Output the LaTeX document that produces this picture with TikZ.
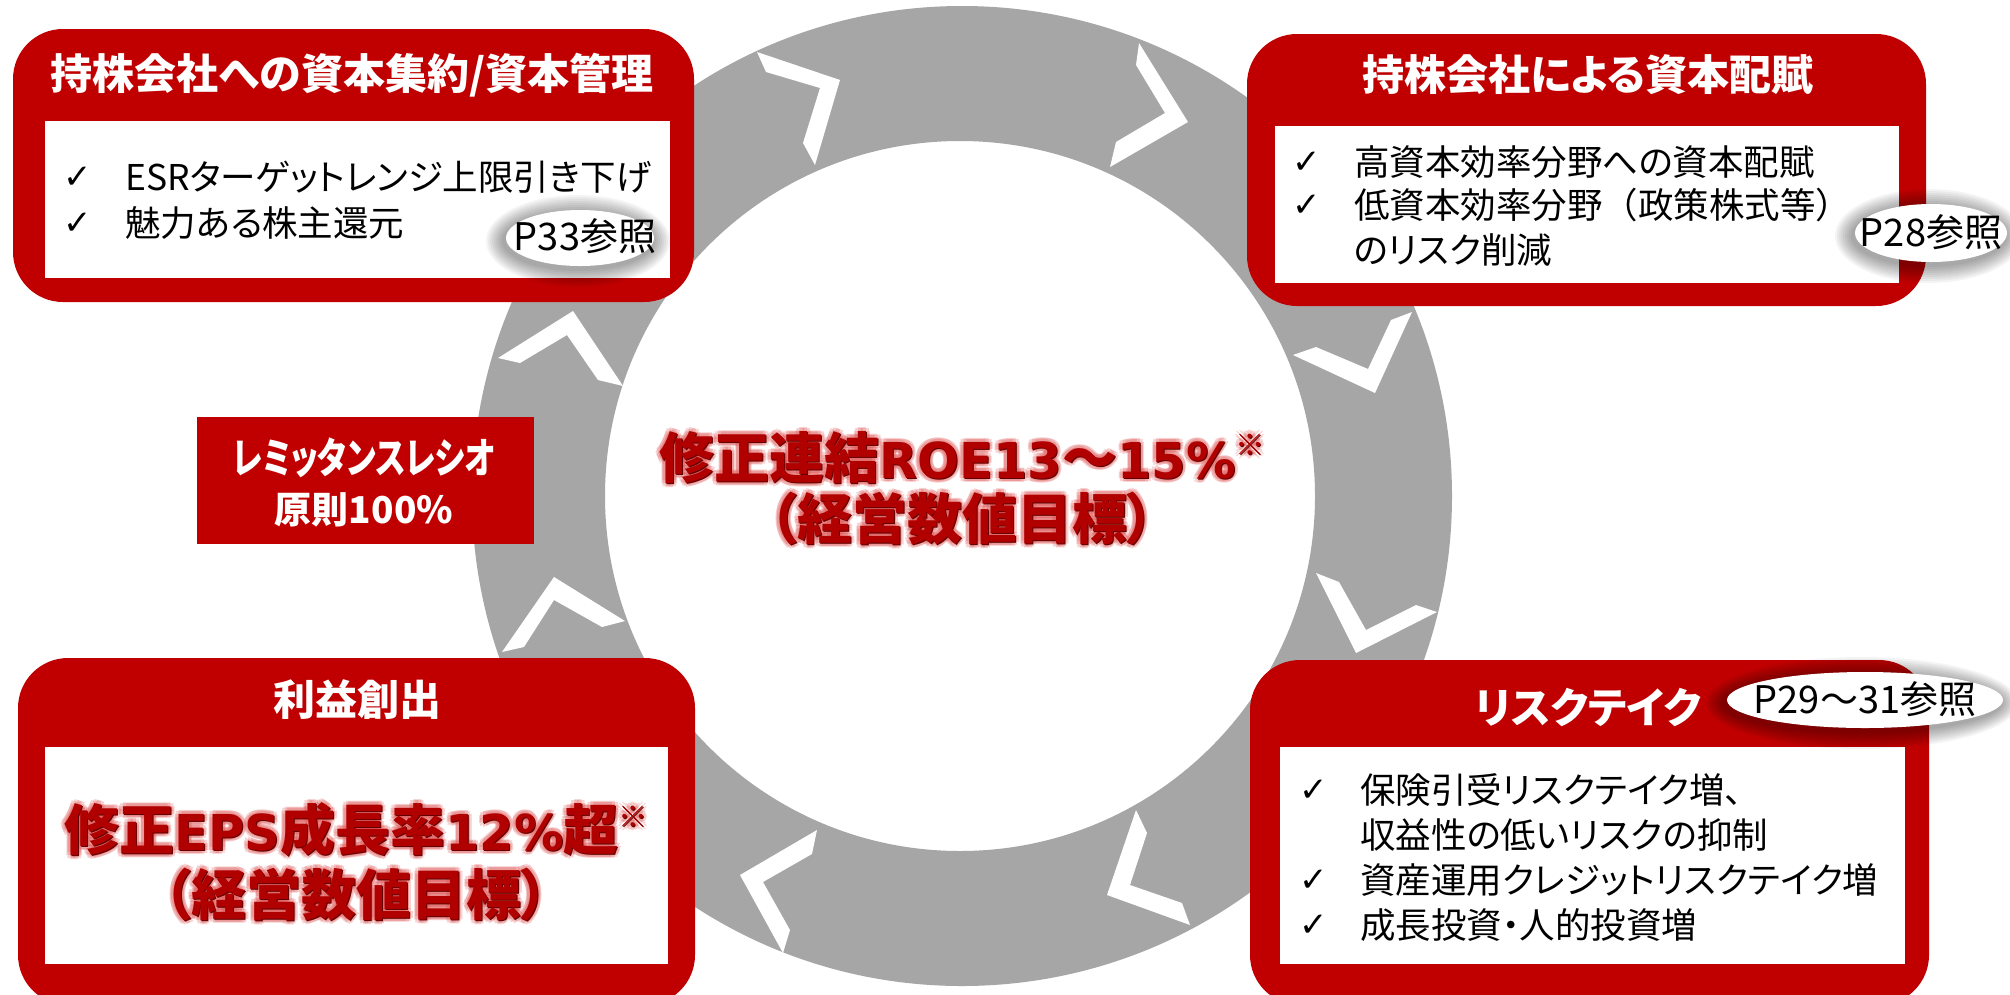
\documentclass[tikz,border=0pt]{standalone}
\usepackage{graphicx}
\usepackage{fontspec}
\newfontfamily\jp[CharacterWidth=AlternateProportional]{Noto Sans CJK JP}
\newfontfamily\jpfull{Noto Sans CJK JP}
\newfontfamily\symfont{DejaVu Sans}
\newfontfamily\latbig[Scale=0.9]{DejaVu Sans}
\definecolor{boxred}{HTML}{C00000}
\definecolor{ringgray}{HTML}{A6A6A6}
\definecolor{deepred}{HTML}{B00000}
\definecolor{darkedge}{HTML}{600000}
\definecolor{glowred}{HTML}{E05050}
\newcommand\komemark{\raisebox{.42em}{\fontsize{29}{29}\selectfont\jp ※}}
\newcommand\roetext{修正連結{\latbig ROE13}～{\latbig 15\%}\komemark\\（経営数値目標）}
\newcommand\epstext{修正{\latbig EPS}成長率{\latbig 12\%}超\komemark\\（経営数値目標）}
\begin{document}
\begin{tikzpicture}[x=1pt,y=-1pt,
  redbox/.style={fill=boxred, rounded corners=50pt},
  whitebox/.style={fill=white},
  head/.style={font=\jp\bfseries\fontsize{42}{46}\selectfont, text=white, inner sep=0pt},
  body/.style={font=\jp\fontsize{35.5}{40}\selectfont, text=black, anchor=west, inner sep=0pt},
  chk/.style={font=\symfont\bfseries\fontsize{34}{38}\selectfont, text=black, inner sep=0pt},
  reftext/.style={font=\jp\fontsize{38}{42}\selectfont, text=black, inner sep=0pt},
  roefont/.style={font=\jp\bfseries\fontsize{55}{61}\selectfont, align=center, inner sep=0pt},
  epsfont/.style={font=\jp\bfseries\fontsize{55}{65}\selectfont, align=center, inner sep=0pt},
  chev/.style={fill=white},
  remtext/.style={font=\jp\bfseries\fontsize{37}{40}\selectfont, text=white, inner sep=0pt}
]
\useasboundingbox (0,0) rectangle (2010,994);
\fill[white] (0,0) rectangle (2010,994);

% ring
\fill[ringgray, even odd rule] (962,496) circle[radius=490pt] (960,496) circle[radius=355pt];

% chevrons
\fill[chev] (757,52) -- (840,80) -- (815,165) -- (803,143) -- (820,88) -- (766,72) -- cycle;
\fill[chev] (1139,43) -- (1188,122) -- (1110,167) -- (1116,142) -- (1165,113) -- (1136,65) -- cycle;
\fill[chev] (1391,320) -- (1412,312) -- (1375,393) -- (1293,355) -- (1316,347) -- (1368,369) -- cycle;
\fill[chev] (1316,573) -- (1339,582) -- (1366,630) -- (1416,605) -- (1437,612) -- (1356,653) -- cycle;
\fill[chev] (1136,810) -- (1147,833) -- (1130,885) -- (1182,903) -- (1190,925) -- (1107,895) -- cycle;
\fill[chev] (817,830) -- (812,854) -- (763,882) -- (790,930) -- (783,953) -- (740,875) -- cycle;
\fill[chev] (502,652) -- (554,577) -- (625,621) -- (602,627) -- (554,600) -- (524,647) -- cycle;
\fill[chev] (498,358) -- (573,311) -- (623,386) -- (598,380) -- (567,335) -- (520,363) -- cycle;

% boxes
\fill[redbox] (13,29) rectangle (694,302);
\fill[whitebox] (45,121) rectangle (670,278);
\fill[redbox] (1247,34) rectangle (1926,306);
\fill[whitebox] (1275,126) rectangle (1899,283);
\fill[redbox] (18,658) rectangle (695,1005);
\fill[whitebox] (45,747) rectangle (668,964);
\fill[redbox] (1250,660) rectangle (1929,1005);
\fill[whitebox] (1280,747) rectangle (1905,964);
\fill[boxred] (197,417) rectangle (534,544);

% headers
\node[head] (h1) at (352,75) {持株会社への資本集約/資本管理};
\node[head] (h2) at (1588,75) {持株会社による資本配賦};
\node[head] (h3) at (357,700) {利益創出};
\node[head] (h4) at (1588,707) {リスクテイク};

% top-left body
\node[chk] (c11) at (78,178) {✓};
\node[body] (t11) at (125,177) {ESRターゲットレンジ上限引き下げ};
\node[chk] (c12) at (78,224) {✓};
\node[body] (t12) at (125,223) {魅力ある株主還元};

% top-right body
\node[chk] (c21) at (1307,163) {✓};
\node[body] (t21) at (1354,162) {高資本効率分野への資本配賦};
\node[chk] (c22) at (1307,206) {✓};
\node[body] (t22) at (1354,205) {低資本効率分野{\jpfull （}政策株式等{\jpfull ）}};
\node[body] (t23) at (1354,250) {のリスク削減};

% bottom-right body
\node[chk] (c41) at (1314,791) {✓};
\node[body] (t41) at (1360,790) {保険引受リスクテイク増、};
\node[body] (t42) at (1360,835) {収益性の低いリスクの抑制};
\node[chk] (c43) at (1314,881) {✓};
\node[body] (t43) at (1360,880) {資産運用クレジットリスクテイク増};
\node[chk] (c44) at (1314,926) {✓};
\node[body] (t44) at (1360,925) {成長投資・人的投資増};

% reference ellipses with soft shadow
\foreach \k in {1,...,9} {
  \fill[black, opacity=0.045] (578,241) ellipse [x radius=74pt+2pt*\k, y radius=28pt+2pt*\k];
  \fill[black, opacity=0.045] (1929,236) ellipse [x radius=76pt+2pt*\k, y radius=29pt+2pt*\k];
  \fill[black, opacity=0.045] (1862,703) ellipse [x radius=138pt+2pt*\k, y radius=28pt+2pt*\k];
}
\fill[white] (580,238) ellipse [x radius=74pt, y radius=28pt];
\fill[white] (1931,233) ellipse [x radius=76pt, y radius=29pt];
\fill[white] (1865,700) ellipse [x radius=138pt, y radius=28pt];
\node[reftext] (r1) at (585,236) {P33参照};
\node[reftext] (r2) at (1931,232) {P28参照};
\node[reftext] (r3) at (1865,699) {P29～31参照};

% remittance
\node[remtext] (rem1) at (364,458) {\scalebox{0.76}[1]{\fontsize{42}{44}\selectfont レミッタンスレシオ}};
\node[remtext] (rem2) at (364,510) {原則100\%};

% glowing big texts
\foreach \a in {0,45,...,315} {
  \node[roefont, text=glowred, text opacity=0.25, xshift={4pt*cos(\a)}, yshift={4pt*sin(\a)}] at (962,488) {\roetext};
  \node[epsfont, text=glowred, text opacity=0.25, xshift={4pt*cos(\a)}, yshift={4pt*sin(\a)}] at (356,862) {\epstext};
}
\node[roefont, text=darkedge, xshift=1.2pt, yshift=-1.2pt] at (962,488) {\roetext};
\node[epsfont, text=darkedge, xshift=1.2pt, yshift=-1.2pt] at (356,862) {\epstext};
\node[roefont, text=deepred] (roe) at (962,488) {\roetext};
\node[epsfont, text=deepred] (eps) at (356,862) {\epstext};
\end{tikzpicture}
\end{document}
